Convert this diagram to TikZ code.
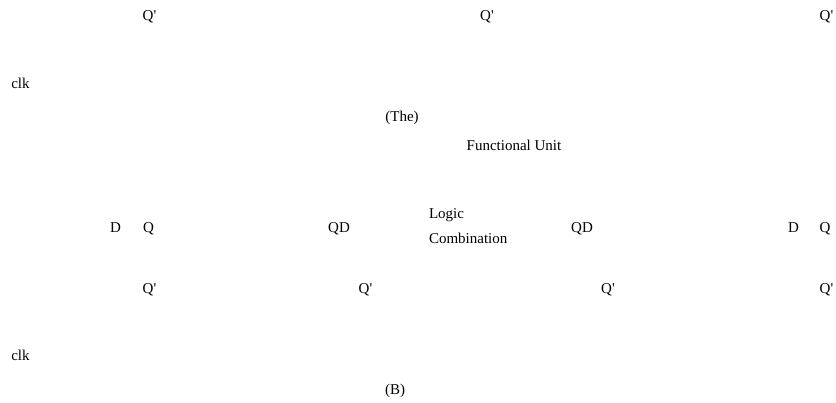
\documentclass[tikz,border=0pt]{standalone}
\usepackage{fontspec}
\setmainfont{Liberation Serif}
\newcommand{\qbar}{Q\textquotesingle}
\begin{document}
\begin{tikzpicture}[x=1pt,y=-1pt,
  lbl/.style={inner sep=0pt,outer sep=0pt,anchor=base,font=\fontsize{15}{18}\selectfont},
  lblw/.style={lbl,anchor=base west}]
\useasboundingbox (0,0) rectangle (836,402);
% upper register row (The)
\node[lbl] (tq1) at (149.5,20) {\qbar};
\node[lbl] (tq2) at (487,20) {\qbar};
\node[lbl] (tq3) at (826.5,20) {\qbar};
\node[lbl] (tclk) at (20.5,88) {clk};
\node[lbl] (tcap) at (402,121) {(The)};
\node[lbl] (fu) at (514,150) {Functional Unit};
% lower register row (B)
\node[lbl] (d1) at (115.5,232) {D};
\node[lbl] (q1) at (148.5,232) {Q};
\node[lbl] (qd1) at (339,232) {QD};
\node[lblw] (logic) at (429,218) {Logic};
\node[lblw] (comb) at (429,243) {Combination};
\node[lbl] (qd2) at (582,232) {QD};
\node[lbl] (d2) at (793.5,232) {D};
\node[lbl] (q2) at (825,232) {Q};
\node[lbl] (bq1) at (149.5,293) {\qbar};
\node[lbl] (bq2) at (365.5,293) {\qbar};
\node[lbl] (bq3) at (608,293) {\qbar};
\node[lbl] (bq4) at (826.5,293) {\qbar};
\node[lbl] (bclk) at (20.5,360) {clk};
\node[lbl] (bcap) at (395,394) {(B)};
\end{tikzpicture}
\end{document}
